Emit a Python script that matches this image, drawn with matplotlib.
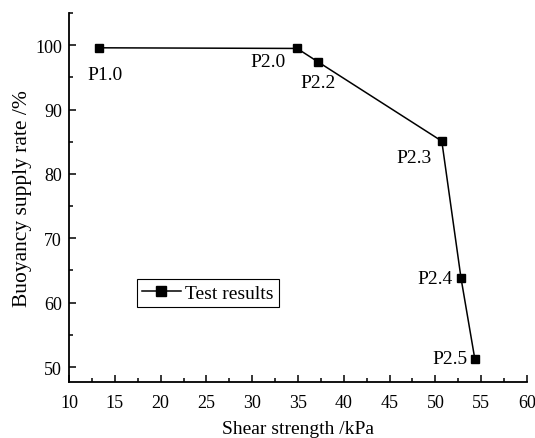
import matplotlib
matplotlib.use('Agg')
import matplotlib.pyplot as plt
from matplotlib.ticker import MultipleLocator

# data
shear = [13.3, 34.9, 37.2, 50.7, 52.8, 54.3]
buoyancy = [99.6, 99.5, 97.4, 85.1, 63.8, 51.3]
labels = ['P1.0', 'P2.0', 'P2.2', 'P2.3', 'P2.4', 'P2.5']
# label offsets in points
offsets = [(4, -19), (-21, -9.5), (0, -15), (-20, -11.5), (-19, 0), (-18, 0)]

plt.rcParams['font.family'] = ['Liberation Serif', 'DejaVu Serif']
plt.rcParams['font.size'] = 13

fig = plt.figure(figsize=(5.35, 4.39), dpi=100)
ax = fig.add_axes([0.129, 0.128, 0.856, 0.840])

ax.plot(shear, buoyancy, color='black', lw=1.1, marker='s', ms=6,
        label='Test results')
for x, y, t, off in zip(shear, buoyancy, labels, offsets):
    ax.annotate(t, (x, y), xytext=off, textcoords='offset points',
                ha='center', va='center', fontsize=14)

ax.set_xlim(10, 60)
ax.set_ylim(47.7, 105)
ax.xaxis.set_major_locator(MultipleLocator(5))
ax.xaxis.set_minor_locator(MultipleLocator(2.5))
ax.yaxis.set_major_locator(MultipleLocator(10))
ax.yaxis.set_minor_locator(MultipleLocator(5))
ax.tick_params(which='both', direction='in', width=1.1)
ax.tick_params(which='major', length=5)
ax.tick_params(which='minor', length=3)
ax.tick_params(axis='x', pad=9)
ax.tick_params(axis='y', pad=5)
ax.spines['top'].set_visible(False)
ax.spines['right'].set_visible(False)
ax.spines['left'].set_linewidth(1.3)
ax.spines['bottom'].set_linewidth(1.3)

ax.set_xlabel('Shear strength /kPa', fontsize=14, labelpad=6)
ax.set_ylabel('Buoyancy supply rate /%', fontsize=15.5, labelpad=2)

leg = ax.legend(loc='upper left', bbox_to_anchor=(0.148, 0.278), fancybox=False,
                edgecolor='black', framealpha=1, handlelength=2.0,
                handletextpad=0.25, borderpad=0.25, borderaxespad=0,
                fontsize=14, markerscale=1.1)
leg.get_frame().set_linewidth(0.8)

fig.savefig('out.png', dpi=100)
